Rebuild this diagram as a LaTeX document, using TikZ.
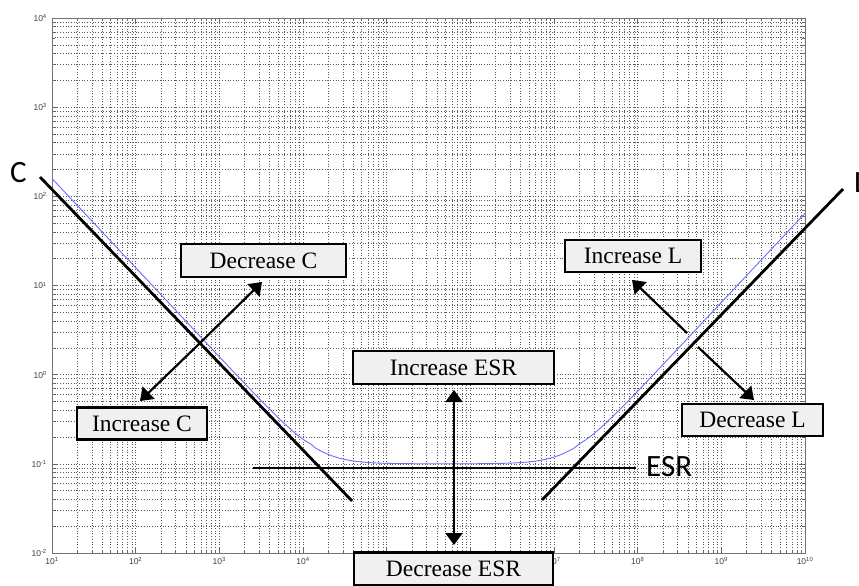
\documentclass[tikz,border=0pt]{standalone}
\usepackage{fontspec}
\setmainfont{Liberation Serif}
\newfontfamily\calfont{Carlito}
\newfontfamily\axfont{Liberation Sans}
\usetikzlibrary{arrows.meta}
\definecolor{boxgray}{HTML}{F0F0F0}
\definecolor{gridgray}{HTML}{5A5A5A}
\definecolor{curveblue}{HTML}{6E6EFF}

\tikzset{
  knob/.style={draw, line width=2.5pt, fill=boxgray, inner sep=0pt,
    minimum height=34pt, font=\fontsize{23.5}{26}\selectfont},
  trace/.style={line width=2.8pt},
  push/.style={line width=2.2pt, -{Triangle[length=12pt,width=17pt]}},
  twin/.style={line width=2.2pt, {Triangle[length=12pt,width=17pt]}-{Triangle[length=12pt,width=17pt]}},
  tag/.style={font=\calfont\fontsize{31}{34}\selectfont, inner sep=0pt},
  gridline/.style={gridgray, line width=0.55pt, dash pattern=on 0.7pt off 2pt},
  ticklab/.style={font=\axfont\fontsize{8.5}{9}\selectfont, text=black!75, inner sep=0pt}
}

\begin{document}
\begin{tikzpicture}[x=1pt,y=-1pt]
\useasboundingbox (0,0) rectangle (859,586);
\fill[white] (0,0) rectangle (859,586);

% log-log axes: 10^1..10^10 across, 10^-2..10^4 up
\begin{scope}[shift={(52,553)}, x=83.67pt, y=89.17pt,
  declare function={zl(\t)=pow(10,\t-8.19); zc(\t)=pow(10,3.2-\t);
    zx(\t)=abs(zl(\t)-zc(\t)); zm(\t)=max(zx(\t),0.1); zn(\t)=min(zx(\t),0.1);
    lz(\t)=log10(zm(\t))+0.5*log10(1+(zn(\t)/zm(\t))^2);}]
  \foreach \d in {0,...,8}
    \foreach \k in {1,...,9} {
      \draw[gridline] ({\d+log10(\k)},0) -- ({\d+log10(\k)},6);
      \draw[black!60, line width=0.5pt] ({\d+log10(\k)},0) -- ++(0pt,3pt);
      \draw[black!60, line width=0.5pt] ({\d+log10(\k)},6) -- ++(0pt,-3pt);
    }
  \foreach \d in {0,...,5}
    \foreach \k in {1,...,9} {
      \draw[gridline] (0,{\d+log10(\k)}) -- (9,{\d+log10(\k)});
      \draw[black!60, line width=0.5pt] (0,{\d+log10(\k)}) -- ++(3pt,0pt);
      \draw[black!60, line width=0.5pt] (9,{\d+log10(\k)}) -- ++(-3pt,0pt);
    }
  \foreach \d in {0,...,9} {
    \draw[black!60, line width=0.6pt] (\d,0) -- ++(0pt,6pt);
    \draw[black!60, line width=0.6pt] (\d,6) -- ++(0pt,-6pt);
  }
  \foreach \d in {0,...,6} {
    \draw[black!60, line width=0.6pt] (0,\d) -- ++(6pt,0pt);
    \draw[black!60, line width=0.6pt] (9,\d) -- ++(-6pt,0pt);
  }
  \draw[black!55, line width=0.9pt] (0,0) rectangle (9,6);

  % tick labels (10^5 and 10^6 sit under a box)
  \foreach \d [evaluate=\d as \n using int(\d+1)] in {0,1,2,3,6,7,8,9}
    \node[ticklab, anchor=north] (bx\d) at (\d,0) [yshift=-4pt] {10\textsuperscript{\n}};
  \foreach \d [evaluate=\d as \n using int(\d-2)] in {0,...,6}
    \node[ticklab, anchor=east] (ly\d) at (0,\d) [xshift=-5pt] {10\textsuperscript{\n}};

  % impedance magnitude
  \draw[curveblue, line width=0.9pt] plot[domain=1:10, samples=181, smooth] ({\x-1},{lz(\x)+2});
\end{scope}

% asymptotes
\coordinate (c1) at (40,177);
\coordinate (c2) at (352,501);
\coordinate (l1) at (542,500);
\coordinate (l2) at (843,189);
\coordinate (e1) at (253,468);
\coordinate (e2) at (636,468);
\draw[trace] (c1) -- (c2);
\draw[trace] (l1) -- (l2);
\draw[trace] (e1) -- (e2);
\node[tag] (lc) at (18.5,173) {C};
\node[tag, anchor=west] (ll) at (854,182.5) {L};
\node[tag, anchor=west] (le) at (646,466.5) {ESR};

% arrows
\coordinate (cx) at (200,343);
\coordinate (cup) at (262,282);
\coordinate (cdn) at (140,401);
\draw[push] (cx) -- (cup);
\draw[push] (cx) -- (cdn);
\coordinate (lx1) at (687,333);
\coordinate (lx2) at (698,347);
\coordinate (lup) at (632,280);
\coordinate (ldn) at (754,400);
\draw[push] (lx1) -- (lup);
\draw[push] (lx2) -- (ldn);
\coordinate (eup) at (454,390);
\coordinate (edn) at (454,545);
\draw[twin] (eup) -- (edn);

% boxes
\node[knob, minimum width=165pt, minimum height=33pt] (dc) at (263.5,260.5) {Decrease C};
\node[knob, minimum width=130pt, minimum height=32pt] (ic) at (142,423.5) {Increase C};
\node[knob, minimum width=201pt, minimum height=33pt] (ie) at (453.5,367.5) {Increase ESR};
\node[knob, minimum width=199pt, minimum height=33pt] (de) at (453.5,569) {Decrease ESR};
\node[knob, minimum width=136pt, minimum height=32pt] (il) at (633,256) {Increase L};
\node[knob, minimum width=141pt, minimum height=32pt] (dl) at (752.5,420) {Decrease L};
\end{tikzpicture}
\end{document}
